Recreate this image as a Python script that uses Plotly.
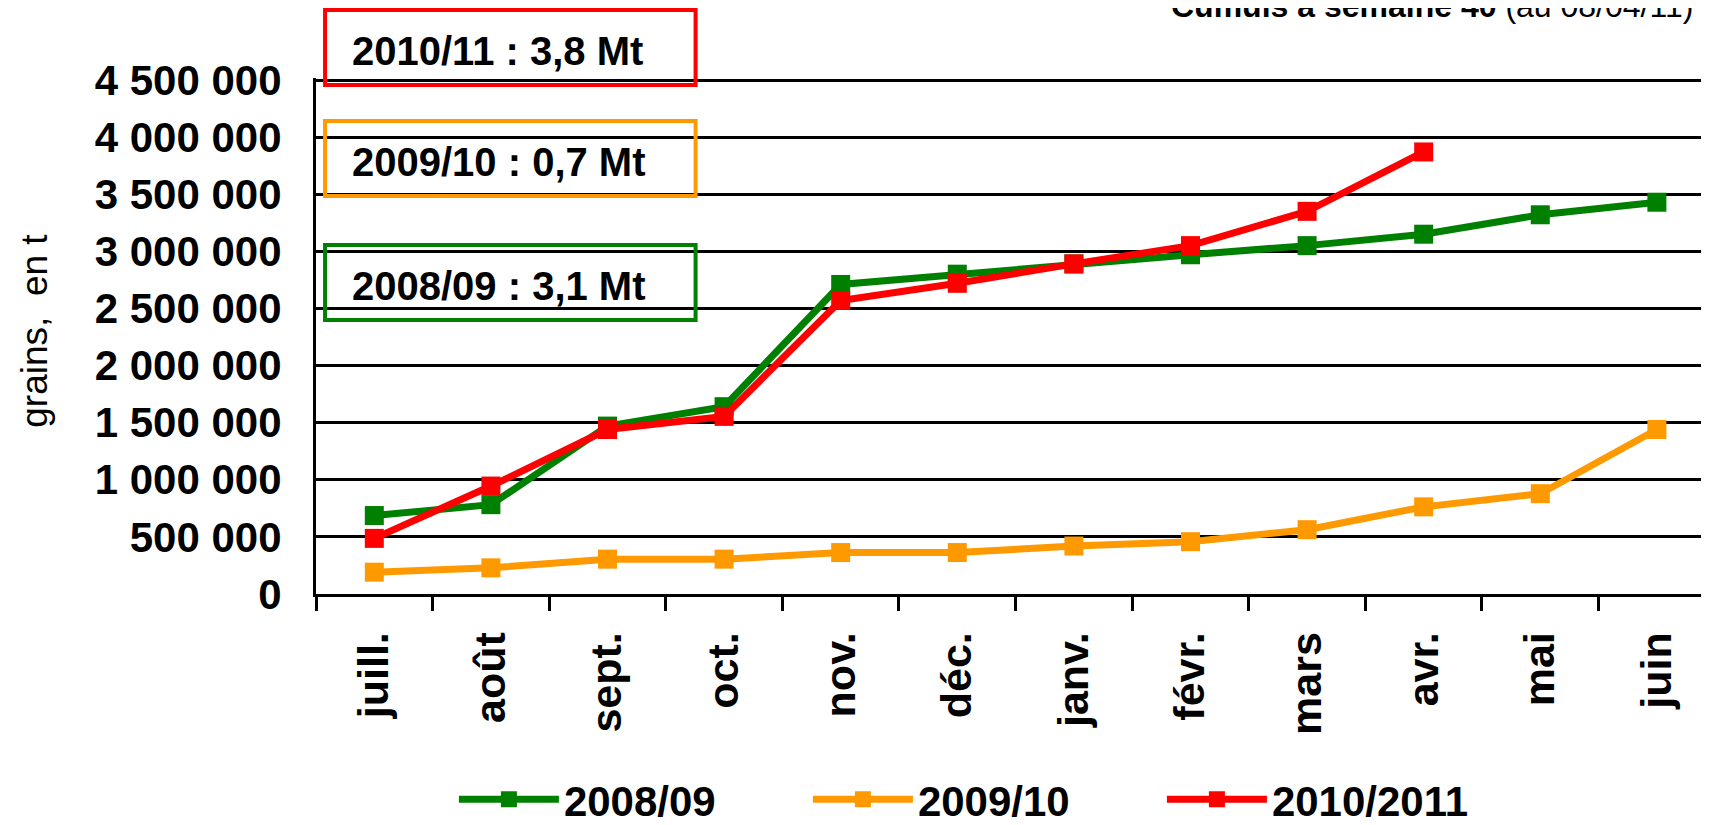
import plotly.graph_objects as go

months = ["juill.", "août", "sept.", "oct.", "nov.", "déc.", "janv.", "févr.", "mars", "avr.", "mai", "juin"]

campagne_2008 = [687000, 782000, 1470000, 1640000, 2710000, 2800000, 2890000, 2970000, 3050000, 3150000, 3320000, 3430000]
campagne_2009 = [191000, 229000, 305000, 305000, 363000, 363000, 420000, 458000, 563000, 763000, 878000, 1440000]
campagne_2010 = [487000, 945000, 1440000, 1555000, 2570000, 2720000, 2890000, 3050000, 3350000, 3870000]

series_names = ["2008/09", "2009/10", "2010/2011"]
totals = ["2008/09 : 3,1 Mt", "2009/10 : 0,7 Mt", "2010/11 : 3,8 Mt"]

FONT = "Liberation Sans"
GREEN, ORANGE, RED = "#008000", "#FF9900", "#FF0000"

fig = go.Figure()
for name, vals, col in zip(series_names, [campagne_2008, campagne_2009, campagne_2010], [GREEN, ORANGE, RED]):
    fig.add_trace(go.Scatter(x=months[:len(vals)], y=vals, name=name, mode="lines+markers",
                             line=dict(color=col, width=7),
                             marker=dict(symbol="square", size=19, color=col)))

# la page html ajoute 8 px de marge autour du graphique
fig.update_layout(
    width=1701, height=817,
    margin=dict(l=308, r=0, t=70, b=231, autoexpand=False),
    plot_bgcolor="white", paper_bgcolor="white",
    separators=", ",
    font=dict(family=FONT, color="black"),
    showlegend=True,
    legend=dict(orientation="h", x=0.099, xanchor="left", y=-0.398, yanchor="middle",
                font=dict(size=42, weight="bold"), itemwidth=100,
                entrywidth=239, entrywidthmode="pixels"),
)

fig.update_xaxes(
    type="category", range=[-0.5, 11.447], automargin=False,
    tickangle=-90, tickfont=dict(size=43, weight="bold", family=FONT),
    ticks="outside", tickson="boundaries", ticklen=14, tickwidth=3, tickcolor="black",
    showline=True, linecolor="black", linewidth=3, showgrid=False,
    ticklabelstandoff=18,
)
# la borne haute un peu au-dessus de 4,5 Mt pour que la dernière grille reste visible
fig.update_yaxes(
    range=[0, 4517500], tickvals=[i * 500000 for i in range(10)], tickformat=",d", automargin=False,
    tickfont=dict(size=42, weight="bold", family=FONT),
    showgrid=True, gridcolor="black", gridwidth=3,
    showline=True, linecolor="black", linewidth=3, zeroline=False,
    ticks="", ticklabelstandoff=23,
)

# encadrés des totaux
boxes = [(0.5310, 0.6764, GREEN), (0.7713, 0.9167, ORANGE), (0.9864, 1.1318, RED)]
for (y0, y1, col), txt in zip(boxes, totals):
    fig.add_shape(type="rect", xref="paper", yref="paper", x0=0.0065, x1=0.2725, y0=y0, y1=y1,
                  line=dict(color=col, width=4), fillcolor="rgba(0,0,0,0)")
    fig.add_annotation(xref="paper", yref="paper", x=0.0244, xanchor="left", y=(y0 + y1) / 2 - 0.006,
                       yanchor="middle", text=txt, showarrow=False,
                       font=dict(size=40, weight="bold", family=FONT, color="black"))

fig.add_annotation(xref="paper", yref="paper", x=-0.2018, y=0.51, xanchor="center", yanchor="middle",
                   text="grains,  en t", textangle=-90, showarrow=False,
                   font=dict(size=37, family=FONT, color="black"))

fig.add_annotation(xref="paper", yref="paper", x=1, xshift=-14, xanchor="right", y=1.139, yanchor="middle",
                   text="<b>Cumuls à semaine 40</b> (au 08/04/11)", showarrow=False,
                   font=dict(size=32, family=FONT, color="black"))

fig.write_html("out.html")
